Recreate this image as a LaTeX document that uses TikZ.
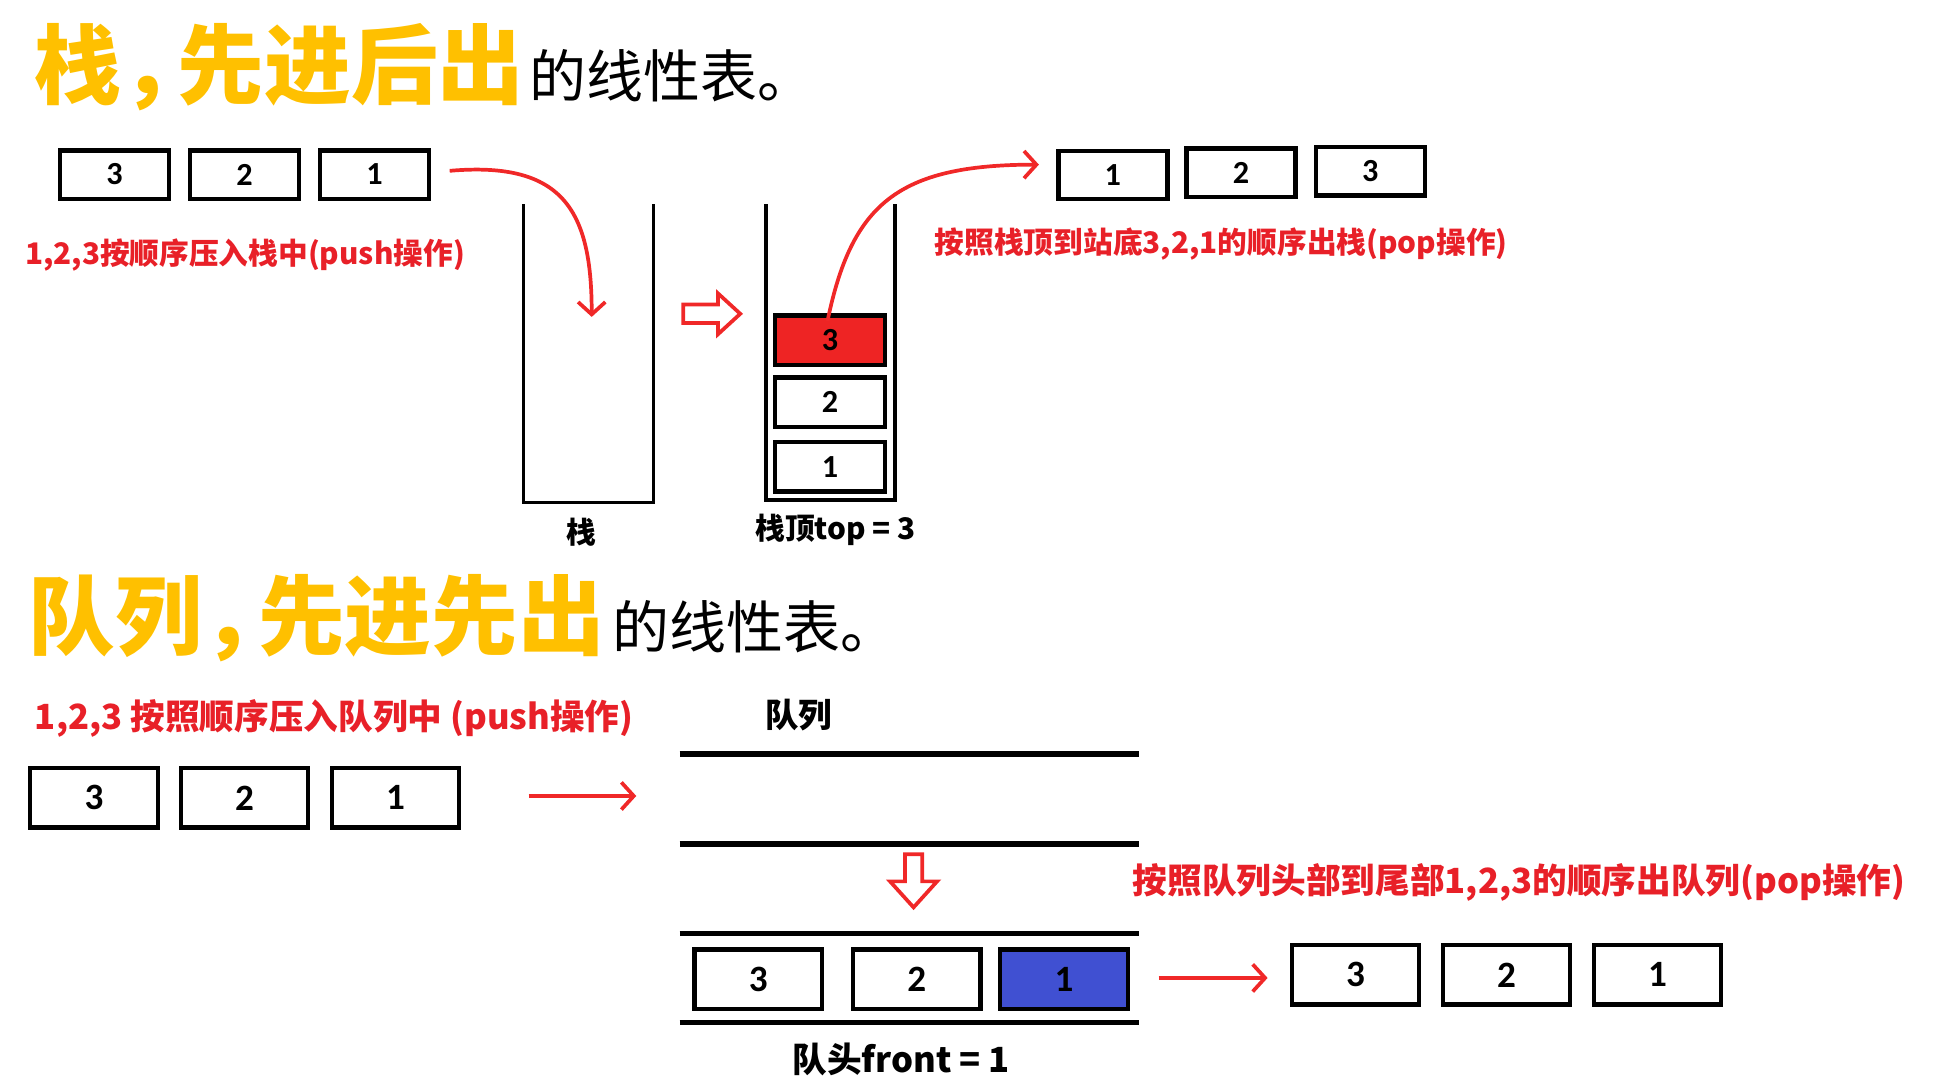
\documentclass[tikz,border=0pt]{standalone}
\usepackage{fontspec}
\setmainfont{Noto Sans CJK SC}
\newfontfamily\numfont{Carlito}
\usetikzlibrary{arrows.meta}
\definecolor{titleorange}{RGB}{255,192,0}
\definecolor{labelred}{RGB}{232,32,40}
\definecolor{arrowred}{RGB}{240,40,40}
\definecolor{topred}{RGB}{238,36,36}
\definecolor{frontblue}{RGB}{64,80,210}
\tikzset{
 elem/.style={draw=black, line width=3.5pt, fill=white, minimum width=88pt, minimum height=39pt, inner sep=0pt, font=\numfont\bfseries\fontsize{26}{26}\selectfont},
 qelem/.style={elem, minimum width=103pt, minimum height=48pt, font=\numfont\bfseries\fontsize{30}{30}\selectfont},
 selem/.style={elem, minimum width=89pt, minimum height=40pt},
 redlabel/.style={text=labelred, font=\bfseries\fontsize{24}{24}\selectfont, inner sep=0pt, anchor=west},
 blacklabel/.style={text=black, font=\bfseries\fontsize{24}{24}\selectfont, inner sep=0pt},
 title/.style={inner sep=0pt, anchor=base west},
 wall/.style={line width=3pt, black},
 qwall/.style={line width=4.5pt, black},
 flow/.style={arrowred, line width=3pt, -{Straight Barb[length=10pt,width=22pt,line width=3pt]}},
 hollow/.style={draw=arrowred, line width=3pt, fill=white, line join=miter},
}
\newcommand{\bigt}[1]{{\color{titleorange}\bfseries\fontsize{70}{70}\selectfont #1}}
\newcommand{\smallt}[1]{{\fontsize{46}{46}\selectfont #1}}
\begin{document}
\begin{tikzpicture}[x=1pt,y=-1pt]
\useasboundingbox (0,0) rectangle (1568,875);
% ---------- titles ----------
\node[title] (title1) at (28,79) {\bigt{栈，\kern-0.35em 先进后出}\kern 4pt\smallt{的线性表。}};
\node[title] (title2) at (23,524) {\bigt{队列，\kern-0.35em 先进先出}\kern 6pt\smallt{的线性表。}};
% ---------- stack: input ----------
\node[elem] (t3) at (92.5,141) {3};
\node[elem] (t2) at (197.5,141) {2};
\node[elem] (t1) at (302.5,141) {1};
\node[redlabel] (pushlbl) at (20,206) {1,2,3按顺序压入栈中(push操作)};
% empty stack
\draw[wall] (423,165) -- (423,406) -- (528,406) -- (528,165);
\node[blacklabel] (stk) at (470,430) {栈};
\coordinate (pushend) at (478,256);
\draw[flow] ([xshift=15pt,yshift=3pt]t1.east) .. controls (455,130) and (478,170) .. (pushend);
% hollow right arrow
\draw[hollow] (552,246) -- (580,246) -- (580,237) -- (598,253.5) -- (580,270) -- (580,261) -- (552,261) -- cycle;
% full stack
\draw[wall] (619,165) -- (619,404) -- (723,404) -- (723,165);
\node[selem, fill=topred] (s3) at (670.5,275) {3};
\node[selem] (s2) at (670.5,325) {2};
\node[selem] (s1) at (670.5,377) {1};
\node[blacklabel] (toplbl) at (675,428) {栈顶top = 3};
% popped
\node[elem] (p1) at (899,141.5) {1};
\node[elem] (p2) at (1002.5,139.5) {2};
\node[elem] (p3) at (1107,138.5) {3};
\draw[flow] ([xshift=-2pt,yshift=-6pt]s3.north) .. controls (688,165) and (725,133) .. ([xshift=-14pt,yshift=8.5pt]p1.west);
\node[redlabel] (poplbl) at (755,197) {按照栈顶到站底3,2,1的顺序出栈(pop操作)};
% ---------- queue ----------
\node[redlabel, font=\bfseries\fontsize{28}{28}\selectfont] (qpushlbl) at (28,580) {1,2,3 按照顺序压入队列中 (push操作)};
\node[blacklabel, font=\bfseries\fontsize{27}{27}\selectfont] (qlbl) at (645,578) {队列};
\node[qelem] (q3) at (76,644.5) {3};
\node[qelem] (q2) at (197.5,644.5) {2};
\node[qelem] (q1) at (319.5,644.5) {1};
\coordinate (qin1) at (427,643);
\coordinate (qin2) at (514,643);
\draw[flow] (qin1) -- (qin2);
\draw[qwall] (549,609) -- (920,609);
\draw[qwall] (549,682) -- (920,682);
\draw[hollow] (731,690) -- (745,690) -- (745,712) -- (757,712) -- (738,733) -- (719,712) -- (731,712) -- cycle;
\draw[qwall] (549,754) -- (920,754);
\draw[qwall] (549,826) -- (920,826);
\node[qelem] (f3) at (612.5,791) {3};
\node[qelem] (f2) at (740.5,791) {2};
\node[qelem, fill=frontblue] (f1) at (859.5,791) {1};
\node[blacklabel, font=\bfseries\fontsize{28}{28}\selectfont] (frontlbl) at (728,856) {队头front = 1};
\node[redlabel, font=\bfseries\fontsize{28}{28}\selectfont] (qpoplbl) at (915,713) {按照队列头部到尾部1,2,3的顺序出队列(pop操作)};
\node[qelem] (o3) at (1095,787.5) {3};
\node[qelem] (o2) at (1217,787.5) {2};
\node[qelem] (o1) at (1339,787.5) {1};
\coordinate (qout1) at (936,790);
\coordinate (qout2) at (1024,790);
\draw[flow] (qout1) -- (qout2);
\end{tikzpicture}
\end{document}
